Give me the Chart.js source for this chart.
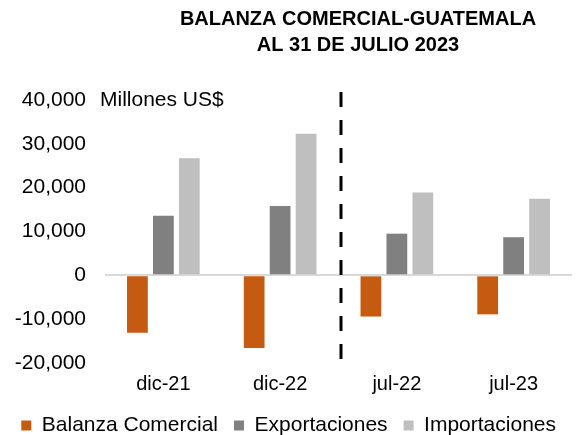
<!DOCTYPE html>
<html>
<head>
<meta charset="utf-8">
<script src="https://cdn.jsdelivr.net/npm/chart.js@4"></script>
<style>
  html, body { margin: 0; padding: 0; background: #fff; }
  #wrap { width: 581px; height: 435px; position: relative; }
</style>
</head>
<body>
<div id="wrap"><canvas id="chart"></canvas></div>
<script>
// --- Datos (millones US$) ---
const categories = ['dic-21', 'dic-22', 'jul-22', 'jul-23'];
const balanza = [-13100, -16600, -9400, -8900];
const exportaciones = [13600, 15800, 9500, 8700];
const importaciones = [26700, 32300, 18900, 17500];
const yTicks = [40000, 30000, 20000, 10000, 0, -10000, -20000];

const titleLines = ['BALANZA COMERCIAL-GUATEMALA', 'AL 31 DE JULIO 2023'];
const unitLabel = 'Millones US$';

const FONT = '"Liberation Sans", Arial, sans-serif';

// Titulo, etiqueta de unidades y linea punteada entre periodos
const extras = {
  id: 'extras',
  afterDraw(chart) {
    const { ctx, chartArea, scales } = chart;
    const x = scales.x, y = scales.y;
    ctx.save();

    // titulo
    ctx.fillStyle = '#000';
    ctx.font = 'bold 20px ' + FONT;
    ctx.textAlign = 'center';
    ctx.textBaseline = 'middle';
    ctx.fillText(titleLines[0], 358, 19);
    ctx.fillText(titleLines[1], 358, 45);

    // unidades
    ctx.font = '21px ' + FONT;
    ctx.textAlign = 'left';
    ctx.fillText(unitLabel, chartArea.left - 5, y.getPixelForValue(yTicks[0]));

    // separador dic / jul
    const sx = (x.getPixelForValue(1) + x.getPixelForValue(2)) / 2 + 2.5;
    ctx.strokeStyle = '#000';
    ctx.lineWidth = 3;
    ctx.setLineDash([15, 13]);
    ctx.beginPath();
    ctx.moveTo(sx, chartArea.top - 8);
    ctx.lineTo(sx, chartArea.bottom);
    ctx.stroke();
    ctx.restore();
  }
};

new Chart(document.getElementById('chart'), {
  type: 'bar',
  data: {
    labels: categories,
    datasets: [
      { label: 'Balanza Comercial', data: balanza, backgroundColor: '#C55A11' },
      { label: 'Exportaciones', data: exportaciones, backgroundColor: '#808080' },
      { label: 'Importaciones', data: importaciones, backgroundColor: '#BFBFBF' }
    ]
  },
  options: {
    responsive: true,
    maintainAspectRatio: false,
    animation: false,
    datasets: { bar: { categoryPercentage: 0.667, barPercentage: 0.8 } },
    layout: { padding: { top: 100, right: 9, left: 0, bottom: -11 } },
    plugins: {
      title: { display: false },
      tooltip: { enabled: false },
      legend: {
        position: 'bottom',
        align: 'end',
        labels: {
          color: '#000',
          font: { family: FONT, size: 21 },
          boxWidth: 10,
          boxHeight: 10,
          padding: 16
        }
      }
    },
    scales: {
      x: {
        afterFit(scale) { scale.height = 36; },
        grid: { display: false, drawTicks: false },
        border: { display: false },
        ticks: { color: '#000', font: { family: FONT, size: 20 }, padding: 9 }
      },
      y: {
        min: -20000,
        max: 40000,
        afterFit(scale) { scale.width = 105; },
        afterBuildTicks(scale) { scale.ticks = yTicks.map(v => ({ value: v })); },
        border: { display: false },
        grid: {
          drawTicks: false,
          lineWidth: 2,
          color: c => c.tick && c.tick.value === 0 ? '#D9D9D9' : 'rgba(0,0,0,0)'
        },
        ticks: {
          color: '#000',
          padding: 19,
          font: { family: FONT, size: 21 },
          callback: v => v.toLocaleString('en-US')
        }
      }
    }
  },
  plugins: [extras]
});
</script>
</body>
</html>
